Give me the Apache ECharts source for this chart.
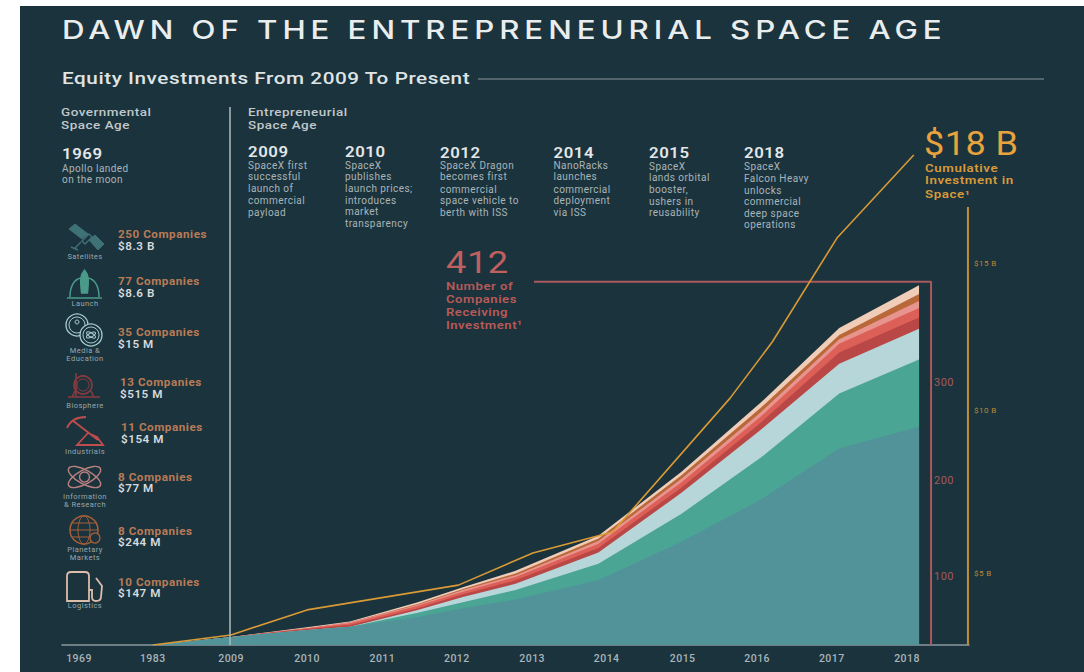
<!DOCTYPE html>
<html><head><meta charset="utf-8">
<style>
html,body{margin:0;padding:0;background:#fff;overflow:hidden}
#c{width:1084px;height:672px}
#c svg text{letter-spacing:.45px}
#c svg text[style*="25px"]{letter-spacing:3.95px}
</style>
<script src="https://cdn.jsdelivr.net/npm/echarts@6/dist/echarts.min.js"></script>
</head><body><div id="c"></div>
<script>
// x positions of the drawn points, measured in "tick slots" of the timeline (0 = 1969, 1 = 1983, 2 = 2009 ... 11 = 2018)
const yearLabels = ['1969','1983','2009','2010','2011','2012','2013','2014','2015','2016','2017','2018'];
const yearTickSlots = [0,0.98,2.02,3.03,4.03,5.02,6.02,7.01,8.02,9.01,10,11];
const bandSlots = [1,2,3,3.6,4.5,5.1,5.8,6.9,8,9.05,10.1,11.16];
// number of companies per sector
const satellites = [0,9,17,21,32,42,52,74,118,166,225,250];
const launchCos  = [0,0,0,0,5,7,11,19,32,48,63,77];
const mediaEdu   = [0,0,0,0,3,6,7,13,24,32,34,35];
const biosphere  = [0,0,1,2,2,3,4,5,6,8,13,13];
const industrial = [0,0,1,2,3,3,4,5,6,7,10,11];
const infoRes    = [0,0,0,1,1,2,2,3,4,5,5,8];
const planetary  = [0,0,0,0,1,1,2,3,4,5,5,8];
const logistics  = [0,0,1,1,2,2,3,3,4,6,8,10];
// cumulative investment, $B
const investSlots = [0.98,2.02,3.03,5.04,6.03,7.09,8.65,9.21,10.07,11.09];
const investBn    = [0,0.37,1.29,2.2,3.38,4.15,9.07,11.13,14.95,18];
// tick labels and where the reference prints them on each scale
const companyTickAt = [77.9,188.9,301];
const companyTickText = ['100','200','300'];
const dollarTickAt = [2.61,8.6,14];
const dollarTickText = ['$5 B','$10 B','$15 B'];
const totalCompanies = 416;
const topInvestAxis = 16.09;

const bandNames = ['Satellites','Launch','Media & Education','Biosphere','Industrials','Information & Research','Planetary Markets','Logistics'];
const bandValues = [satellites,launchCos,mediaEdu,biosphere,industrial,infoRes,planetary,logistics];
const bandColors = ['#529299','#4aa595','#b7d6da','#b94745','#dc5f58','#e8948e','#b9683a','#f0cdb8'];

const BG='#1b333d', FONT='Roboto', GREY='#a9b5b9', LIGHT='#d5dbdd', ORANGE='#b97b57', RED='#c0605f', GOLD='#d99a35';

const g=[];
function t(s,x,y,size,color,weight,align,family,sx){
  g.push({type:'text',z:20,x:x,y:y,scaleX:sx||1,style:{text:s,fill:color,align:align||'left',verticalAlign:'middle',lineHeight:size,
    font:(weight||400)+' '+size+'px '+(family||FONT)}});
}
function ln(x1,y1,x2,y2,color,w){
  g.push({type:'line',z:20,shape:{x1,y1,x2,y2},style:{stroke:color,lineWidth:w}});
}
let icN=0;
function ic(d,x,y,color,w,fill){
  const name='icon'+(icN++);
  echarts.graphic.registerShape(name,echarts.graphic.extendPath(d,{}));
  g.push({type:name,z:20,x:x,y:y,style:{stroke:color,lineWidth:w||1.5,fill:fill||'none'}});
}
function circ(cx,cy,r,color,w,fill){
  g.push({type:'circle',z:20,shape:{cx,cy,r},style:{stroke:color,lineWidth:w||1.5,fill:fill||'none'}});
}
function ell(cx,cy,rx,ry,rot,color,w){
  g.push({type:'ellipse',z:20,x:cx,y:cy,rotation:rot,shape:{cx:0,cy:0,rx,ry},style:{stroke:color,lineWidth:w||1.5,fill:'none'}});
}
// panel
g.push({type:'rect',z:-5,shape:{x:20,y:6,width:1064,height:666},style:{fill:BG}});
t('DAWN OF THE ENTREPRENEURIAL SPACE AGE',62,30,25,'#e9eded',500,'left','Inter',1.25);
t('Equity Investments From 2009 To Present',62,78,17,'#dfe4e6',500,'left',FONT,1.22);
ln(478,79,1044,79,'#8a989d',1);
ln(230,107,230,645,'#a8b5b8',1.6);
t('Governmental',61,112,11.5,'#c0c8cb',500,'left',FONT,1.17);t('Space Age',61,125,11.5,'#c0c8cb',500,'left',FONT,1.17);
t('Entrepreneurial',248,112,11.5,'#c0c8cb',500,'left',FONT,1.17);t('Space Age',248,125,11.5,'#c0c8cb',500,'left',FONT,1.17);
const milestones=[
 ['1969',62,154,[['Apollo landed',168],['on the moon',179]]],
 ['2009',248,152,[['SpaceX first',165],['successful',176],['launch of',188],['commercial',200],['payload',212]]],
 ['2010',345,152,[['SpaceX',165],['publishes',176],['launch prices;',188],['introduces',200],['market',211],['transparency',223]]],
 ['2012',440,153,[['SpaceX Dragon',165],['becomes first',176],['commercial',189],['space vehicle to',200],['berth with ISS',212]]],
 ['2014',553.5,153,[['NanoRacks',165],['launches',176],['commercial',189],['deployment',200],['via ISS',212]]],
 ['2015',649,153,[['SpaceX',166],['lands orbital',177],['booster,',189],['ushers in',201],['reusability',212]]],
 ['2018',744,153,[['SpaceX',166],['Falcon Heavy',178],['unlocks',190],['commercial',201],['deep space',213],['operations',224]]]
];
milestones.forEach(m=>{t(m[0],m[1],m[2],14,'#e3e7e8',600,'left',FONT,1.2);m[3].forEach(l=>t(l[0],m[1],l[1],10,GREY,400));});
t('412',446,262,31,RED,400,'left',FONT,1.17);
['Number of','Companies','Receiving','Investment¹'].forEach((s,i)=>t(s,446,[286,299,312,325][i],11.5,'#b85a58',600,'left',FONT,1.14));
t('$18 B',924,144,34,'#e8a33d',400,'left',FONT,1.06);
['Cumulative','Investment in','Space¹'].forEach((s,i)=>t(s,925,[169,181,195][i],10.5,'#d79a3a',600,'left',FONT,1.27));
const sectors=[
 ['250 Companies','$8.3 B',118,235,247],['77 Companies','$8.6 B',118,282,294],['35 Companies','$15 M',118,333,345],
 ['13 Companies','$515 M',120,383,395],['11 Companies','$154 M',121,428,440],['8 Companies','$77 M',118,478,489],
 ['8 Companies','$244 M',118,532,543],['10 Companies','$147 M',118,583,594]];
sectors.forEach(s=>{t(s[0],s[2],s[3],10,ORANGE,700,'left',FONT,1.17);t(s[1],s[2],s[4],10,LIGHT,600,'left',FONT,1.17);});
[['Satellites',256],['Launch',303],['Media &',350],['Education',358],['Biosphere',405],['Industrials',451],['Information',496],['& Research',504],['Planetary',549],['Markets',557],['Logistics',605]]
 .forEach(c=>t(c[0],85,c[1],7.5,'#9aa7ab',400,'center'));
// icons
const sat='#3f7277';
ic('M2,6 L8,1 L21,11 L15,16 Z',67,223,sat,1,sat);
ic('M22,17 L28,12 L37,21 L31,27 Z',67,223,sat,1,sat);
ic('M15,18 L22,11 L25,14 L18,21 Z M14,19 L8,25 M4,24 L11,27',67,223,sat,1.4);
const rk='#4a9a8a';
ic('M17.5,0 C13,5 13,10 14.5,23 L20.5,23 C22,10 22,5 17.5,0 Z',67,270,rk,1.3,rk);
ic('M3,27 C3,15 8,9 14,8 M21,8 C27,9 32,15 32,27 M0,28 L35,28',67,270,rk,1.5);
const md='#a9cdd0';
circ(77,325,11,md,1.3);circ(77,325,8,md,1);circ(91,335,11,md,1.3,BG);circ(91,335,8,md,1);
ell(91,335,5,2,0.5,md,1);ell(91,335,5,2,-0.5,md,1);circ(77,322,2,md,1);
const bs='#8a3a3f';
circ(83,385,9,bs,1.6);circ(83,385,6,bs,1);
ic('M68,397 L100,397 M72,397 L75,391 M94,397 L91,391 M76,373 L76,397',0,0,bs,1.6);
const ind='#c04d4d';
ic('M72,420 L98,440 M67,428 C70,421 76,417 86,417 M77,445 L88,433 L97,437 L103,445 Z',0,0,ind,1.8);
const at='#b98080';
ell(84.5,477,18,7,0.5,at,1.4);ell(84.5,477,18,7,-0.5,at,1.4);circ(84.5,477,5,at,1.4);
const gl='#a85f38';
circ(84,530,14,gl,1.5);ell(84,530,6,14,0,gl,1);ic('M70,530 L98,530 M72,523 L96,523 M72,537 L96,537',0,0,gl,1);circ(95,538,5,gl,1.3,BG);
const fu='#dcbcab';
ic('M67,601 L67,576 Q67,572 71,572 L85,572 Q89,572 89,576 L89,601 Z M89,590 L92,590 L92,597 Q92,601 96,601 Q101,601 101,597 L102,586 L96,578',0,0,fu,1.8);

// The x axis is numeric, so ECharts' own stack would sum along x: add the bands up here and paint the tallest first.
const running=bandSlots.map(()=>0);
const bandSeries=bandValues.map((vals,i)=>{
  vals.forEach((v,j)=>{running[j]+=v;});
  return {name:bandNames[i],type:'line',yAxisIndex:0,showSymbol:false,silent:true,z:3,
    lineStyle:{width:0},itemStyle:{color:bandColors[i]},areaStyle:{color:bandColors[i],opacity:1,origin:'start'},
    data:running.map((v,j)=>[bandSlots[j],v])};
}).reverse();
const series=bandSeries.slice();
series.push({name:'Cumulative Investment',type:'line',yAxisIndex:1,showSymbol:false,silent:true,z:6,
  lineStyle:{color:GOLD,width:1.6},data:investBn.map((v,j)=>[investSlots[j],v])});
series.push({name:'Number of Companies axis',type:'line',yAxisIndex:0,showSymbol:false,silent:true,z:5,
  lineStyle:{color:'#a85a5c',width:2},data:[[6.045,totalCompanies],[11.32,totalCompanies],[11.32,0]]});
series.push({name:'Investment axis',type:'line',yAxisIndex:1,showSymbol:false,silent:true,z:5,
  lineStyle:{color:'#c08f36',width:2},data:[[11.81,0],[11.81,topInvestAxis]]});

const chart=echarts.init(document.getElementById('c'),null,{renderer:'svg',width:1084,height:672});
chart.setOption({
  animation:false,backgroundColor:'#ffffff',
  grid:{left:62,right:115,top:121,height:524,containLabel:false},
  xAxis:{type:'value',min:-0.226,max:11.824,
    axisLine:{show:true,onZero:false,lineStyle:{color:'#8a999e',width:1.5}},axisTick:{show:false},splitLine:{show:false},
    axisLabel:{customValues:yearTickSlots,margin:8,fontFamily:FONT,fontSize:10.5,fontWeight:500,color:GREY,
      formatter:v=>yearLabels[yearTickSlots.indexOf(v)]}},
  yAxis:[
    {type:'value',min:0,max:600,position:'right',offset:-38,axisLine:{show:false},axisTick:{show:false},splitLine:{show:false},
     axisLabel:{customValues:companyTickAt,margin:3,fontFamily:FONT,fontSize:11,color:'#a55a5a',
       formatter:v=>companyTickText[companyTickAt.indexOf(v)]}},
    {type:'value',min:0,max:19.25,position:'right',offset:0,axisLine:{show:false},axisTick:{show:false},splitLine:{show:false},
     axisLabel:{customValues:dollarTickAt,margin:5,fontFamily:FONT,fontSize:8,color:'#b88a35',
       formatter:v=>dollarTickText[dollarTickAt.indexOf(v)]}}
  ],
  graphic:{elements:g},
  series:series
});
</script></body></html>
